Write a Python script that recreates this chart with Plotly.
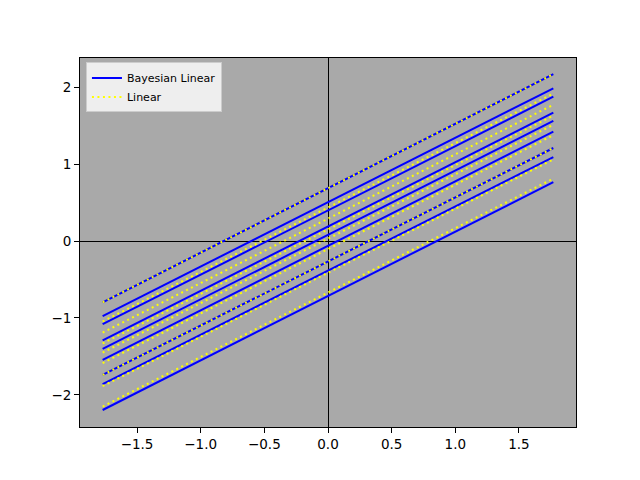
import plotly.graph_objects as go

# x positions of the line ends
x_ends = [-1.77, 1.77]

# Bayesian Linear lines: y at left end, y at right end
bayes_left = [-0.796, -0.975, -1.08, -1.29, -1.40, -1.545, -1.74, -1.86, -2.195]
bayes_right = [2.167, 1.983, 1.875, 1.667, 1.56, 1.42, 1.208, 1.09, 0.765]

# Linear lines: y at left end, y at right end
linear_left = [-0.796, -1.045, -1.19, -1.33, -1.45, -1.585, -1.74, -1.885, -2.15]
linear_right = [2.167, 1.915, 1.77, 1.63, 1.51, 1.375, 1.208, 1.06, 0.81]

x_ticks = [-1.5, -1.0, -0.5, 0.0, 0.5, 1.0, 1.5]
x_tick_text = ["\u22121.5", "\u22121.0", "\u22120.5", "0.0", "0.5", "1.0", "1.5"]
y_ticks = [-2, -1, 0, 1, 2]
y_tick_text = ["\u22122", "\u22121", "0", "1", "2"]

fig = go.Figure()

for i, (yl, yr) in enumerate(zip(bayes_left, bayes_right)):
    fig.add_trace(go.Scatter(
        x=x_ends, y=[yl, yr], mode="lines",
        line=dict(color="blue", width=2),
        name="Bayesian Linear", legendgroup="bayes",
        showlegend=(i == 0), hoverinfo="skip"))

for i, (yl, yr) in enumerate(zip(linear_left, linear_right)):
    fig.add_trace(go.Scatter(
        x=x_ends, y=[yl, yr], mode="lines",
        line=dict(color="yellow", width=2, dash="2px,3.5px"),
        name="Linear", legendgroup="linear",
        showlegend=(i == 0), hoverinfo="skip"))

axis_common = dict(
    showgrid=False, ticks="outside", ticklen=5, tickwidth=1, tickcolor="black",
    showline=True, linecolor="black", linewidth=1, mirror=True,
    zeroline=True, zerolinecolor="black", zerolinewidth=1,
    tickfont=dict(family="DejaVu Sans", size=13.5, color="black"),
)

fig.update_xaxes(range=[-1.948, 1.948], tickvals=x_ticks, ticktext=x_tick_text, **axis_common)
fig.update_yaxes(range=[-2.416, 2.377], tickvals=y_ticks, ticktext=y_tick_text, **axis_common)

fig.update_layout(
    width=632, height=472,
    margin=dict(l=72, r=64, t=50, b=53),
    paper_bgcolor="white", plot_bgcolor="#A9A9A9",
    font=dict(family="DejaVu Sans", color="black"),
    legend=dict(
        x=0.012, y=0.988, xanchor="left", yanchor="top",
        bgcolor="#EEEEEE", bordercolor="#CCCCCC", borderwidth=1,
        font=dict(family="DejaVu Sans", size=11, color="black"),
        tracegroupgap=0, itemwidth=30,
    ),
)

fig.write_html("out.html")
